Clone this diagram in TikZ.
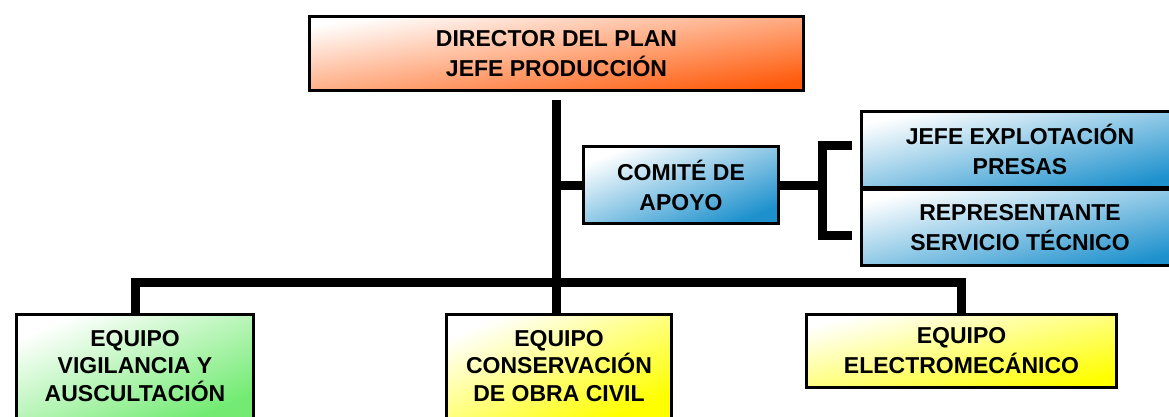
\documentclass[tikz,border=0pt]{standalone}
\usepackage{fontspec}
\setmainfont{Liberation Sans}
\usepackage{xcolor}
\usepackage{tikz}
\usetikzlibrary{positioning}
\definecolor{dirorange}{RGB}{255,90,10}
\definecolor{comblue}{RGB}{30,145,205}
\definecolor{vigreen}{RGB}{115,235,115}
\definecolor{teamyellow}{RGB}{255,255,0}
\tikzset{
x=1pt, y=-1pt, % one unit is one pixel of the chart
box/.style 2 args={draw=black, line width=3pt, inner sep=0pt, align=center,
  font=\fontsize{23}{30}\selectfont\bfseries,
  top color=white, bottom color=#1, shading angle=#2}, % white top left, colour bottom right
link/.style={line width=9pt, line join=miter}, % the thick black connectors
}

\begin{document}
\begin{tikzpicture}
    \useasboundingbox (0,0) rectangle (1169,417);

    \node[box={dirorange}{8.8}, minimum width=494pt, minimum height=74pt] (dir) at (556.5,53.5) {DIRECTOR DEL PLAN\\JEFE PRODUCCIÓN};
    \node[box={comblue}{22}, minimum width=195pt, minimum height=77pt] (com) at (681,185) {COMITÉ DE\\APOYO};
    \node[box={comblue}{13.7}, minimum width=317pt, minimum height=76pt] (jefe) at (1020,149.5) {JEFE EXPLOTACIÓN\\PRESAS};
    \node[box={comblue}{13.7}, minimum width=317pt, minimum height=76pt] (rep) at (1020,227.5) {REPRESENTANTE\\SERVICIO TÉCNICO};
    \node[box={vigreen}{23.4}, minimum width=237pt, minimum height=104pt, font=\fontsize{23}{27.5}\selectfont\bfseries] (vig) at (135,366) {EQUIPO\\VIGILANCIA Y\\AUSCULTACIÓN};
    \node[box={teamyellow}{24.5}, minimum width=225pt, minimum height=104pt, font=\fontsize{23}{27.5}\selectfont\bfseries] (cons) at (559,366) {EQUIPO\\CONSERVACIÓN\\DE OBRA CIVIL};
    \node[box={teamyellow}{13.6}, minimum width=310pt, minimum height=73pt] (elec) at (961.5,351) {EQUIPO\\ELECTROMECÁNICO};

    \coordinate (bar) at (556.5,282);
    \coordinate (brk) at (822,185);

    \draw[link, shorten <=8pt] (dir.south) -- (dir.south |- cons.north);
    \draw[link] (com.west) -- (com.west -| dir.south);
    \draw[link] (vig.north) |- (bar) -| (elec.north);
    \draw[link] (com.east) -- (brk);
    \draw[link] ([xshift=-8pt, yshift=4.5pt]jefe.west) -| (brk) |- ([xshift=-8pt, yshift=-7.5pt]rep.west);

\end{tikzpicture}
\end{document}
